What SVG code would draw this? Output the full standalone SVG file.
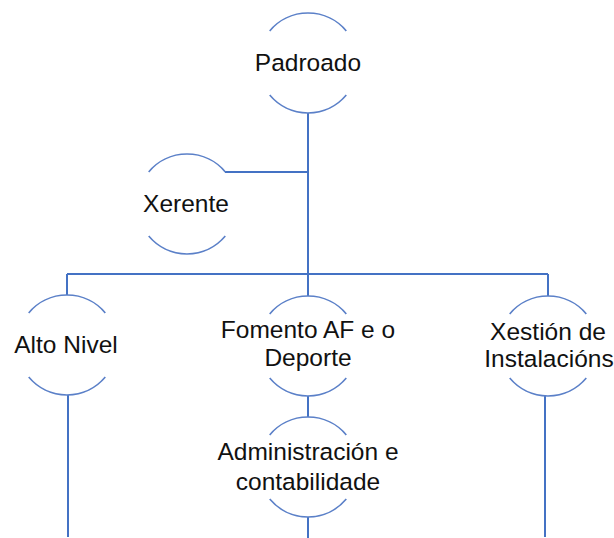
<svg xmlns="http://www.w3.org/2000/svg" xmlns:xlink="http://www.w3.org/1999/xlink" width="614" height="538" viewBox="0 0 614 538">
<style>
.arc{fill:none;stroke:#5B80C8;stroke-width:1.6}
.con{fill:none;stroke:#4472C4;stroke-width:2}
text{font-family:"Liberation Sans",Arial,sans-serif;font-size:24.5px;fill:#111;text-anchor:middle}
</style>
<defs>
<path id="arcs" d="M-38.3,-32.1 A50,50 0 0 1 38.3,-32.1 M-38.3,32.1 A50,50 0 0 0 38.3,32.1"/>
</defs>
<rect width="614" height="538" fill="#fff"/>
<g id="connectors">
<path class="con" d="M308,113 V296"/>
<path class="con" d="M225,172 H308"/>
<path class="con" d="M67,274 H548"/>
<path class="con" d="M67,274 V295"/>
<path class="con" d="M548,274 V296"/>
<path class="con" d="M308,396 V417"/>
<path class="con" d="M308,517 V538"/>
<path class="con" d="M68,395 V537"/>
<path class="con" d="M545,396 V537"/>
</g>
<g id="padroado">
<use href="#arcs" class="arc" x="308" y="63"/>
<text x="308" y="71">Padroado</text>
</g>
<g id="xerente">
<use href="#arcs" class="arc" x="187" y="204"/>
<text x="186" y="212">Xerente</text>
</g>
<g id="alto-nivel">
<use href="#arcs" class="arc" x="67" y="345"/>
<text x="66" y="353">Alto Nivel</text>
</g>
<g id="fomento">
<use href="#arcs" class="arc" x="308" y="346"/>
<text x="308" y="338">Fomento AF e o</text>
<text x="308" y="366">Deporte</text>
</g>
<g id="xestion">
<use href="#arcs" class="arc" x="548" y="346"/>
<text x="548" y="340">Xestión de</text>
<text x="549" y="367">Instalacións</text>
</g>
<g id="administracion">
<use href="#arcs" class="arc" x="308" y="467"/>
<text x="308" y="460">Administración e</text>
<text x="308" y="490">contabilidade</text>
</g>
</svg>
